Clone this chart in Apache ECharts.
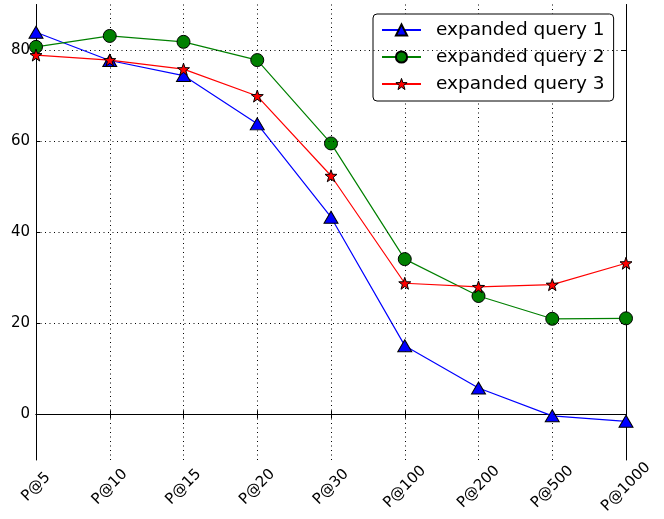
<!DOCTYPE html>
<html>
<head>
<meta charset="utf-8">
<script src="https://cdn.jsdelivr.net/npm/echarts@6/dist/echarts.min.js"></script>
<style>
  html, body { margin: 0; padding: 0; background: #fff; }
  #chartmain { width: 664px; height: 519px; }
</style>
</head>
<body>
<div id="chartmain"></div>
<script>
var categories = ['P@5', 'P@10', 'P@15', 'P@20', 'P@30', 'P@100', 'P@200', 'P@500', 'P@1000'];
var query1 = [83.9, 77.7, 74.4, 63.8, 43.3, 15.1, 5.8, -0.3, -1.5];
var query2 = [80.7, 83.1, 81.8, 77.8, 59.5, 34.1, 26.0, 21.0, 21.1];
var query3 = [78.9, 77.8, 75.8, 69.9, 52.4, 28.8, 28.0, 28.5, 33.2];
var yTicks = [0, 20, 40, 60, 80];

var font = 'DejaVu Sans';
var starPath = 'path://M0,-10L2.35,-3.24L9.51,-3.09L3.8,1.24L5.88,8.09L0,4L-5.88,8.09L-3.8,1.24L-9.51,-3.09L-2.35,-3.24Z';

window.onload = function(){
    var dotted = { color: '#000', type: [1, 3.5], width: 1 };
    var option = {
        animation: false,
        backgroundColor: '#fff',
        grid: { left: 36, right: 38, top: 4.5, bottom: 59 },
        legend: {
            orient: 'vertical',
            left: 373,
            top: 14,
            padding: [6, 9, 7, 8],
            itemWidth: 39,
            itemHeight: 14,
            itemGap: 7,
            borderColor: '#000',
            borderWidth: 1,
            borderRadius: 4,
            backgroundColor: '#fff',
            textStyle: { fontFamily: font, fontSize: 18.5, lineHeight: 20, color: '#000', padding: [0, 0, 0, 10] },
            data: [
                { name: 'expanded query 1', itemStyle: { color: '#0000ff' } },
                { name: 'expanded query 2', itemStyle: { color: '#008000' } },
                { name: 'expanded query 3', itemStyle: { color: '#ff0000', borderColor: '#000', borderWidth: 1 } }
            ]
        },
        xAxis: [
            {
                type: 'category',
                boundaryGap: false,
                data: categories,
                axisLine: { lineStyle: { color: '#000', width: 1 } },
                axisTick: { inside: true, length: 4, lineStyle: { color: '#000' } },
                axisLabel: {
                    rotate: 45, fontFamily: font, fontSize: 15, color: '#000',
                    margin: 27, align: 'center', verticalAlign: 'middle'
                },
                splitLine: { show: true, lineStyle: dotted }
            },
            {
                type: 'category',
                position: 'top',
                boundaryGap: false,
                data: categories,
                axisLine: { lineStyle: { color: '#000', width: 1 } },
                axisTick: { inside: true, length: 4, lineStyle: { color: '#000' } },
                axisLabel: { show: false },
                splitLine: { show: false }
            }
        ],
        yAxis: [
            {
                type: 'value',
                min: -10,
                max: 90,
                interval: 10,
                axisLine: { show: true, lineStyle: { color: '#000', width: 1 } },
                axisTick: { show: true, inside: true, length: 4, customValues: yTicks, lineStyle: { color: '#000' } },
                axisLabel: { fontFamily: font, fontSize: 15, color: '#000', margin: 6, customValues: yTicks },
                splitLine: { show: false }
            },
            {
                type: 'value',
                position: 'right',
                min: -10,
                max: 90,
                interval: 10,
                axisLine: { show: true, lineStyle: { color: '#000', width: 1 } },
                axisTick: { show: true, inside: true, length: 4, customValues: yTicks, lineStyle: { color: '#000' } },
                axisLabel: { show: false },
                splitLine: { show: false }
            }
        ],
        series: [
            {
                name: 'grid',
                type: 'line',
                data: [],
                silent: true,
                markLine: {
                    silent: true,
                    symbol: 'none',
                    label: { show: false },
                    lineStyle: dotted,
                    data: yTicks.map(function (v) { return { yAxis: v }; })
                }
            },
            {
                name: 'expanded query 1',
                type: 'line',
                data: query1,
                color: '#0000ff',
                symbol: 'triangle',
                symbolSize: [14, 12],
                lineStyle: { color: '#0000ff', width: 1.2 },
                itemStyle: { color: '#0000ff', borderColor: '#000', borderWidth: 1 },
                z: 3
            },
            {
                name: 'expanded query 2',
                type: 'line',
                data: query2,
                color: '#008000',
                symbol: 'circle',
                symbolSize: 13,
                lineStyle: { color: '#008000', width: 1.2 },
                itemStyle: { color: '#008000', borderColor: '#000', borderWidth: 1 },
                z: 4
            },
            {
                name: 'expanded query 3',
                type: 'line',
                data: query3,
                color: '#ff0000',
                symbol: starPath,
                symbolSize: 12,
                lineStyle: { color: '#ff0000', width: 1.2 },
                itemStyle: { color: '#ff0000', borderColor: '#000', borderWidth: 1 },
                z: 5
            }
        ]
    };

    var myChart = echarts.init(document.getElementById('chartmain'));
    myChart.setOption(option);
};
</script>
</body>
</html>
